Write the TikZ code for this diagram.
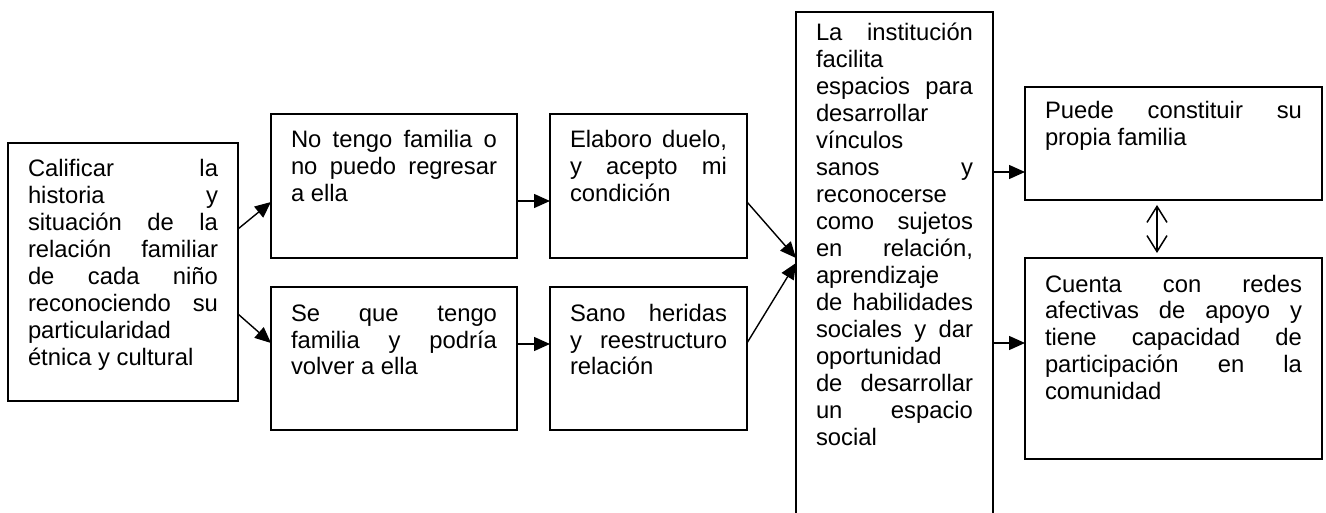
\documentclass[tikz,border=0pt]{standalone}
\usepackage{fontspec}
\setmainfont{Liberation Sans}
\usetikzlibrary{arrows.meta}
\tolerance=10000
\hbadness=10000

\tikzset{
	caja/.style={draw, line width=1.7pt, anchor=north west, outer sep=0pt,
		inner xsep=20pt, inner ysep=0pt, text height=34pt, align=justify,
		font=\fontsize{23.8}{27}\selectfont},
	flecha/.style={line width=1.4pt, -{Triangle[length=16pt,width=14pt]}},
	doble/.style={line width=1.5pt, {Straight Barb[length=16pt,width=20pt]}-{Straight Barb[length=16pt,width=20pt]}}
}

\begin{document}
\begin{tikzpicture}[x=1pt, y=-1pt]
	\useasboundingbox (0,0) rectangle (1326,513);
	\node[caja, text width=190pt, text depth=224pt] (calif) at (8,143) {Calificar la\linebreak historia y\linebreak situación de la\linebreak relación familiar\linebreak de cada niño\linebreak reconociendo su\linebreak particularidad\linebreak étnica y cultural}; %inicio
	\node[caja, text width=206pt, text depth=110pt] (nofam) at (271,114) {No tengo familia o\linebreak no puedo regresar\linebreak a ella};
	\node[caja, text width=206pt, text depth=109pt] (sefam) at (271,287) {Se que tengo\linebreak familia y podría\linebreak volver a ella};
	\node[caja, text width=157pt, text depth=110pt] (duelo) at (550,114) {Elaboro duelo,\linebreak y acepto mi\linebreak condición};
	\node[caja, text width=157pt, text depth=109pt] (sano) at (550,287) {Sano heridas\linebreak y reestructuro\linebreak relación};
	\node[caja, text width=157pt, text height=29pt, text depth=512pt] (inst) at (796,12) {La institución\linebreak facilita\linebreak espacios para\linebreak desarrollar\linebreak vínculos\linebreak sanos y\linebreak reconocerse\linebreak como sujetos\linebreak en relación,\linebreak aprendizaje\linebreak de habilidades\linebreak sociales y dar\linebreak oportunidad\linebreak de desarrollar\linebreak un espacio\linebreak social}; %institucion
	\node[caja, text width=257pt, text height=32pt, text depth=81pt] (familia) at (1025,87) {Puede constituir su\linebreak propia familia};
	\node[caja, text width=257pt, text depth=167pt] (redes) at (1025,258) {Cuenta con redes\linebreak afectivas de apoyo y\linebreak tiene capacidad de\linebreak participación en la\linebreak comunidad};

	\draw[flecha] ([yshift=-86pt]calif.north east) -- ([yshift=-88pt]nofam.north west);
	\draw[flecha] ([yshift=-171pt]calif.north east) -- ([yshift=-56pt]sefam.north west);
	\draw[flecha] ([yshift=-87pt]nofam.north east) -- ([yshift=-87pt]duelo.north west);
	\draw[flecha] ([yshift=-57pt]sefam.north east) -- ([yshift=-57pt]sano.north west);
	\draw[flecha] ([yshift=-88pt]duelo.north east) -- ([yshift=-246pt]inst.north west);
	\draw[flecha] ([yshift=-56pt]sano.north east) -- ([yshift=-251pt]inst.north west);
	\draw[flecha] ([yshift=-160pt]inst.north east) -- ([yshift=-85pt]familia.north west);
	\draw[flecha] ([yshift=-331pt]inst.north east) -- ([yshift=-85pt]redes.north west);
	\draw[doble] ([xshift=132pt,yshift=-5pt]familia.south west) -- ([xshift=132pt,yshift=5pt]redes.north west); %doble
\end{tikzpicture}
\end{document}
